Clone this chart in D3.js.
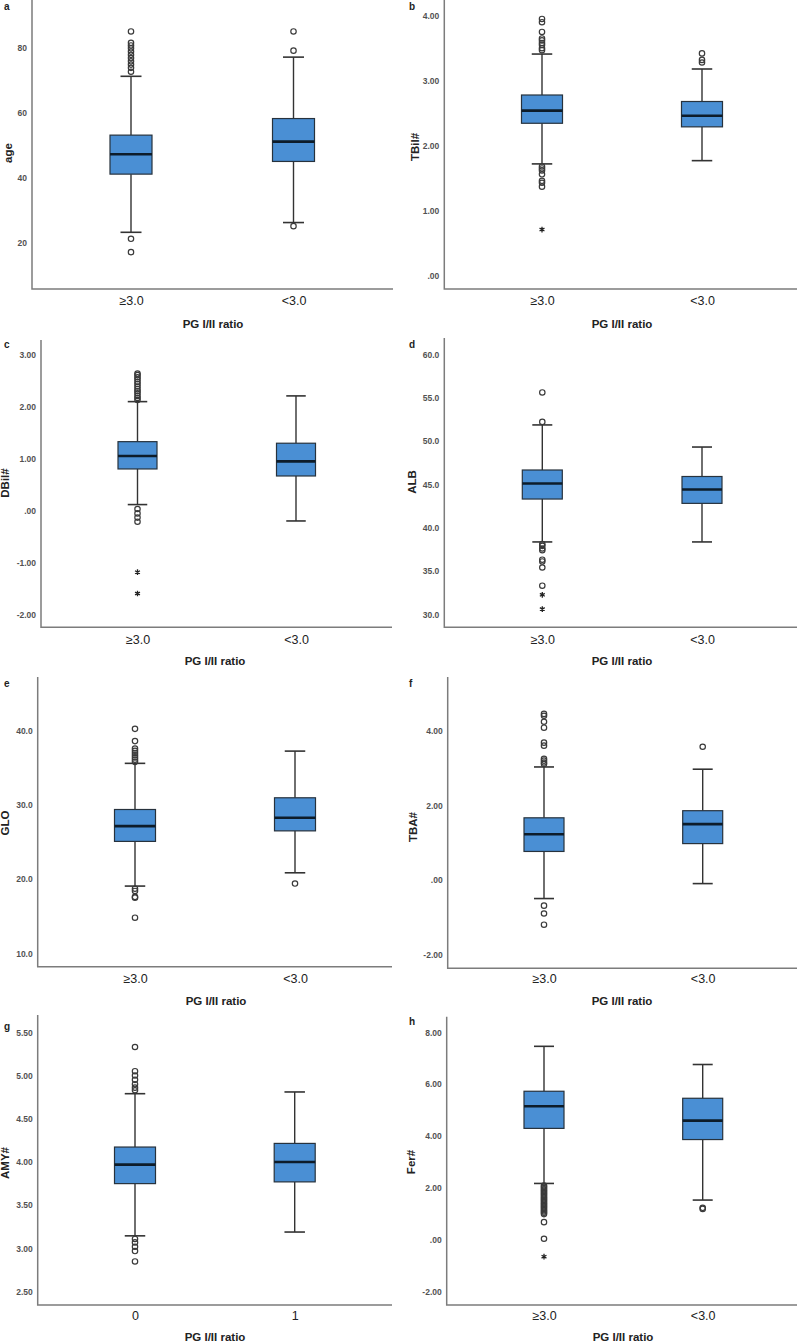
<!DOCTYPE html>
<html><head><meta charset="utf-8">
<script src="https://cdn.jsdelivr.net/npm/d3@7"></script>
<style>body{margin:0;background:#fff}svg{display:block}</style>
</head><body>
<svg id="c" width="800" height="1342"></svg>
<script>
// ---------- DATA ----------
const groups = ["≥3.0", "<3.0"];
const groupsG = ["0", "1"];
const xTitle = "PG I/II ratio";

// box stats per group: [lowerWhisker, Q1, median, Q3, upperWhisker]
const ageBox = [[23.2, 41.1, 47.2, 53.1, 71.2], [26.2, 45.0, 51.1, 58.2, 77.1]];
const ageOut = [[85, 81.5, 80.7, 79.8, 78.8, 77.8, 76.8, 75.8, 74.8, 73.8, 72.6, 21.2, 17.1], [85, 79.1, 25.1]];
const ageExt = [[], []];
const ageTicks = [20, 40, 60, 80];

const tbilBox = [[1.72, 2.345, 2.54, 2.78, 3.41], [1.77, 2.29, 2.46, 2.68, 3.18]];
const tbilOut = [[3.95, 3.9, 3.75, 3.65, 3.62, 3.58, 3.55, 3.5, 3.47, 1.68, 1.65, 1.62, 1.56, 1.46, 1.43, 1.37], [3.42, 3.32, 3.28]];
const tbilExt = [[0.71], []];
const tbilTicks = [0, 1, 2, 3, 4];

const dbilBox = [[0.11, 0.795, 1.045, 1.32, 2.09], [-0.205, 0.66, 0.94, 1.29, 2.2]];
const dbilOut = [[2.63, 2.6, 2.56, 2.52, 2.47, 2.43, 2.38, 2.33, 2.29, 2.25, 2.2, 2.16, 2.12, 0.025, -0.06, -0.14, -0.22], []];
const dbilExt = [[-1.19, -1.6], []];
const dbilTicks = [-2, -1, 0, 1, 2, 3];

const albBox = [[38.35, 43.3, 45.1, 46.65, 51.85], [38.35, 42.8, 44.4, 45.9, 49.3]];
const albOut = [[55.6, 52.2, 38.1, 37.9, 37.6, 37.4, 36.3, 36.1, 35.4, 33.3], []];
const albExt = [[32.25, 30.6], []];
const albTicks = [30, 35, 40, 45, 50, 55, 60];

const gloBox = [[19.06, 25.08, 27.14, 29.38, 35.6], [20.85, 26.5, 28.26, 30.96, 37.25]];
const gloOut = [[40.25, 38.6, 37.6, 37.3, 37.0, 36.7, 36.4, 36.1, 35.8, 18.7, 18.4, 17.6, 17.5, 14.8], [19.4]];
const gloExt = [[], []];
const gloTicks = [10, 20, 30, 40];

const tbaBox = [[-0.49, 0.77, 1.23, 1.67, 3.03], [-0.09, 0.98, 1.5, 1.86, 2.97]];
const tbaOut = [[4.45, 4.4, 4.24, 4.08, 3.68, 3.6, 3.25, 3.2, 3.15, 3.11, -0.68, -0.89, -1.19], [3.57]];
const tbaExt = [[], []];
const tbaTicks = [-2, 0, 2, 4];

const amyBox = [[3.146, 3.75, 3.97, 4.173, 4.79], [3.19, 3.77, 4.0, 4.215, 4.81]];
const amyOut = [[5.33, 5.05, 5.0, 4.95, 4.9, 4.86, 4.83, 3.11, 3.07, 3.02, 2.97, 2.85], []];
const amyExt = [[], []];
const amyTicks = [2.5, 3.0, 3.5, 4.0, 4.5, 5.0, 5.5];

const ferBox = [[2.18, 4.3, 5.15, 5.73, 7.46], [1.54, 3.87, 4.6, 5.46, 6.76]];
const ferOut = [[2.1, 2.05, 2.0, 1.95, 1.9, 1.85, 1.8, 1.75, 1.7, 1.65, 1.6, 1.55, 1.5, 1.45, 1.4, 1.35, 1.3, 1.25, 1.2, 1.15, 1.1, 1.05, 1.0, 0.69, 0.05], [1.24, 1.2]];
const ferExt = [[-0.64], []];
const ferTicks = [-2, 0, 2, 4, 6, 8];

// ---------- LAYOUT ----------
const hy = s => s.replace("\u2212", "-");
const fmt2 = v => v === 0 ? ".00" : hy(d3.format(".2f")(v));
const fmt1 = v => hy(d3.format(".1f")(v));
const fmt0 = v => String(v);

const panels = [
  {letter:"a", yt:"age",   cats:groups,  box:ageBox,  out:ageOut,  ext:ageExt,  ticks:ageTicks,  fmt:fmt0,
   ax:32, top:0, bot:289, right:393, d:[20,80], r:[242.7,47.7], c:[131,293.5], bw:42, tX:8, tY:153, catY:305, titleY:328, titleX:213, lx:4, ly:10},
  {letter:"b", yt:"TBil#", cats:groups,  box:tbilBox, out:tbilOut, ext:tbilExt, ticks:tbilTicks, fmt:fmt2,
   ax:444.3, top:0, bot:289, right:797, d:[0,4], r:[275.7,15.7], c:[542,702], bw:41, tX:415, tY:147, catY:305, titleY:328, titleX:622, lx:409, ly:10},
  {letter:"c", yt:"DBil#", cats:groups,  box:dbilBox, out:dbilOut, ext:dbilExt, ticks:dbilTicks, fmt:fmt2,
   ax:41, top:340, bot:627.3, right:392, d:[-2,3], r:[614.3,354.3], c:[137.5,296], bw:39, tX:4.5, tY:483, catY:644, titleY:665, titleX:215, lx:4, ly:348},
  {letter:"d", yt:"ALB",   cats:groups,  box:albBox,  out:albOut,  ext:albExt,  ticks:albTicks,  fmt:fmt1,
   ax:444.3, top:338, bot:627.3, right:797, d:[30,60], r:[614.3,354.3], c:[542.3,702], bw:40, tX:412, tY:482, catY:644, titleY:665, titleX:622, lx:409, ly:348},
  {letter:"e", yt:"GLO",   cats:groups,  box:gloBox,  out:gloOut,  ext:gloExt,  ticks:gloTicks,  fmt:fmt1,
   ax:37.7, top:677, bot:966.7, right:392, d:[10,40], r:[953.3,730.7], c:[135,295], bw:41, tX:5, tY:823, catY:983, titleY:1005, titleX:216, lx:4, ly:687},
  {letter:"f", yt:"TBA#",  cats:groups,  box:tbaBox,  out:tbaOut,  ext:tbaExt,  ticks:tbaTicks,  fmt:fmt2,
   ax:447.7, top:677, bot:968.3, right:797, d:[-2,4], r:[955,730.7], c:[544,702.7], bw:40, tX:412.5, tY:827, catY:983, titleY:1005, titleX:622, lx:409, ly:687},
  {letter:"g", yt:"AMY#",  cats:groupsG, box:amyBox,  out:amyOut,  ext:amyExt,  ticks:amyTicks,  fmt:fmt2,
   ax:37.7, top:1015, bot:1305, right:392, d:[2.5,5.5], r:[1291.7,1032.3], c:[135,294.7], bw:41, tX:4.5, tY:1163, catY:1320, titleY:1341, titleX:215, lx:4, ly:1030},
  {letter:"h", yt:"Fer#",  cats:groups,  box:ferBox,  out:ferOut,  ext:ferExt,  ticks:ferTicks,  fmt:fmt2,
   ax:446.7, top:1016.7, bot:1305, right:797, d:[-2,8], r:[1292,1032.3], c:[544,702.7], bw:40, tX:411, tY:1162, catY:1320, titleY:1341, titleX:623, lx:409, ly:1025}
];

const svg = d3.select("#c");
const FONT = "'Liberation Sans', Arial, sans-serif";
const boxFill = "#4a8fd4", boxStroke = "#27323d", medStroke = "#0d1c2a", lineC = "#333";

panels.forEach(p => {
  const g = svg.append("g");
  const y = d3.scaleLinear().domain(p.d).range(p.r);
  const x = d3.scalePoint().domain(p.cats).range(p.c);

  g.append("text").attr("x", p.lx).attr("y", p.ly).text(p.letter)
    .attr("font-family", FONT).attr("font-size", 10).attr("font-weight", "bold").attr("fill", "#222");

  const yAxis = d3.axisLeft(y).tickValues(p.ticks).tickFormat(p.fmt).tickSize(0).tickPadding(5);
  const ya = g.append("g").attr("transform", `translate(${p.ax},0)`).call(yAxis);
  ya.select(".domain").remove();
  ya.selectAll("text").attr("font-family", FONT).attr("font-size", 8.5).attr("fill", "#333").attr("font-weight", "bold").attr("opacity", 0.85);

  const xAxis = d3.axisBottom(x).tickSize(0).tickPadding(0);
  const xa = g.append("g").attr("transform", `translate(0,${p.catY - 10})`).call(xAxis);
  xa.select(".domain").remove();
  xa.selectAll("text").attr("font-family", FONT).attr("font-size", 12.5).attr("fill", "#222").attr("dy", 0).attr("y", 10);

  g.append("path").attr("d", `M${p.ax},${p.top}V${p.bot}H${p.right}`)
    .attr("fill", "none").attr("stroke", "#7c7c7c").attr("stroke-width", 1.5);

  g.append("text").attr("x", p.titleX).attr("y", p.titleY).attr("text-anchor", "middle").text(xTitle)
    .attr("font-family", FONT).attr("font-size", 11.5).attr("font-weight", "bold").attr("fill", "#222");
  g.append("text").attr("transform", `translate(${p.tX + 4},${p.tY}) rotate(-90)`)
    .attr("text-anchor", "middle").text(p.yt)
    .attr("font-family", FONT).attr("font-size", 11.5).attr("font-weight", "bold").attr("fill", "#222");

  p.cats.forEach((cat, i) => {
    const [lo, q1, md, q3, hi] = p.box[i];
    const cx = x(cat), hw = p.bw / 2, cw = p.bw / 4;
    g.append("line").attr("x1", cx).attr("x2", cx).attr("y1", y(hi)).attr("y2", y(q3)).attr("stroke", lineC).attr("stroke-width", 1.4);
    g.append("line").attr("x1", cx).attr("x2", cx).attr("y1", y(q1)).attr("y2", y(lo)).attr("stroke", lineC).attr("stroke-width", 1.4);
    g.append("line").attr("x1", cx - cw).attr("x2", cx + cw).attr("y1", y(hi)).attr("y2", y(hi)).attr("stroke", lineC).attr("stroke-width", 1.6);
    g.append("line").attr("x1", cx - cw).attr("x2", cx + cw).attr("y1", y(lo)).attr("y2", y(lo)).attr("stroke", lineC).attr("stroke-width", 1.6);
    g.append("rect").attr("x", cx - hw).attr("y", y(q3)).attr("width", p.bw).attr("height", y(q1) - y(q3))
      .attr("fill", boxFill).attr("stroke", boxStroke).attr("stroke-width", 1.2);
    g.append("line").attr("x1", cx - hw).attr("x2", cx + hw).attr("y1", y(md)).attr("y2", y(md))
      .attr("stroke", medStroke).attr("stroke-width", 2.6);
    g.selectAll(null).data(p.out[i]).enter().append("circle")
      .attr("cx", cx).attr("cy", d => y(d)).attr("r", 2.7)
      .attr("fill", "none").attr("stroke", "#3a3a3a").attr("stroke-width", 1.2);
    g.selectAll(null).data(p.ext[i]).enter().append("path")
      .attr("d", d3.symbol(d3.symbolAsterisk, 22))
      .attr("transform", d => `translate(${cx},${y(d)})`)
      .attr("fill", "none").attr("stroke", "#222").attr("stroke-width", 1.3);
  });
});
</script>
</body></html>
